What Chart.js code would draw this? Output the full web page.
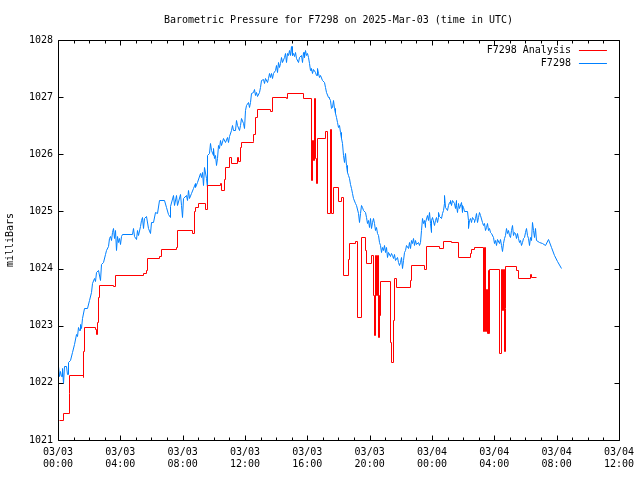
<!DOCTYPE html>
<html>
<head>
<meta charset="utf-8">
<script src="https://cdn.jsdelivr.net/npm/chart.js@4.4.1/dist/chart.umd.min.js"></script>
<style>
html,body{margin:0;padding:0;background:#fff;}
canvas{display:block;}
</style>
</head>
<body>
<canvas id="c" width="640" height="480"></canvas>
<script>
// ---- DATA (time = minutes after 2025-03-03 00:00 UTC, pressure in mb) ----
const chartTitle = 'Barometric Pressure for F7298 on 2025-Mar-03 (time in UTC)';
const yAxisTitle = 'milliBars';
const seriesNames = ['F7298 Analysis', 'F7298'];
const xTickDates = ['03/03','03/03','03/03','03/03','03/03','03/03','03/04','03/04','03/04','03/04'];
const xTickTimes = ['00:00','04:00','08:00','12:00','16:00','20:00','00:00','04:00','08:00','12:00'];
const yTickValues = [1021,1022,1023,1024,1025,1026,1027,1028];

const analysisMinutes = [2,20,41,44,95,98,100,143,147,150,153,157,212,219,327,338,341,389,395,453,460,517,524,529,541,565,575,624,629,639,642,660,667,690,694,701,703,749,752,760,766,817,824,877,882,944,975,979,982,986,990,995,998,1028,1037,1048,1053,1060,1079,1091,1098,1116,1120,1143,1150,1166,1181,1185,1207,1212,1216,1221,1225,1229,1231,1235,1238,1240,1279,1283,1289,1294,1302,1354,1358,1408,1417,1468,1481,1515,1542,1587,1592,1600,1636,1642,1645,1647,1651,1654,1657,1661,1699,1705,1709,1713,1716,1720,1723,1765,1770,1817,1822,1839];
const analysisPressure = [1021.35,1021.47,1021.82,1022.13,1022.10,1022.55,1022.98,1022.95,1022.86,1023.07,1023.51,1023.72,1023.70,1023.88,1023.92,1023.97,1024.18,1024.22,1024.34,1024.37,1024.67,1024.62,1025.00,1025.08,1025.14,1025.04,1025.46,1025.49,1025.38,1025.56,1025.77,1025.95,1025.84,1025.95,1025.88,1026.12,1026.22,1026.24,1026.35,1026.66,1026.79,1026.76,1027.01,1026.98,1027.07,1026.98,1025.55,1026.25,1025.90,1026.98,1025.94,1025.50,1026.28,1026.40,1024.98,1026.45,1024.98,1025.43,1025.19,1025.26,1023.88,1024.17,1024.44,1024.49,1023.15,1024.56,1024.32,1024.09,1024.24,1023.54,1022.84,1024.24,1023.54,1024.24,1022.81,1023.54,1023.19,1023.78,1022.72,1022.37,1023.10,1023.83,1023.67,1023.80,1024.06,1023.99,1024.40,1024.36,1024.49,1024.47,1024.21,1024.27,1024.34,1024.38,1022.90,1024.38,1022.90,1023.64,1022.88,1023.98,1022.88,1023.99,1022.53,1024.00,1023.27,1024.00,1022.56,1023.31,1024.04,1023.97,1023.83,1023.90,1023.86,1023.86];

const stationMinutes = [
0,4,8,12,15,19,23,31,35,38,
46,54,61,69,73,77,81,84,88,92,
100,111,119,127,130,138,142,146,153,161,
165,173,180,184,192,196,199,203,207,211,
215,219,223,226,230,234,238,242,246,284,
288,292,299,303,307,315,318,322,326,330,
338,345,353,357,364,372,380,387,407,414,
422,430,433,441,445,453,460,468,472,476,
483,491,495,499,506,514,518,526,529,537,
545,549,556,560,564,568,572,575,583,587,
591,595,598,602,606,610,614,618,621,625,
629,637,644,652,656,660,667,671,675,683,
687,690,698,702,706,714,717,721,725,733,
737,740,744,752,756,760,763,767,775,779,
783,790,794,798,806,809,813,817,821,825,
829,836,840,844,848,852,855,859,863,871,
875,878,882,886,890,894,898,901,905,909,
913,917,924,928,936,940,944,947,951,955,
959,963,967,971,974,978,982,990,994,997,
1001,1005,1009,1017,1024,1028,1032,1040,1043,1047,
1051,1055,1059,1063,1066,1070,1074,1078,1082,1086,
1089,1093,1097,1101,1105,1109,1112,1116,1120,1124,
1128,1132,1135,1143,1147,1155,1158,1162,1166,1170,
1174,1181,1185,1189,1193,1197,1201,1205,1208,1212,
1216,1220,1224,1228,1231,1235,1239,1243,1247,1251,
1254,1258,1262,1266,1270,1277,1281,1285,1289,1293,
1297,1304,1308,1312,1316,1320,1323,1327,1331,1335,
1339,1346,1350,1354,1358,1362,1366,1369,1373,1377,
1385,1389,1392,1396,1400,1404,1408,1412,1415,1419,
1423,1427,1431,1435,1438,1442,1446,1450,1454,1458,
1462,1465,1469,1473,1477,1481,1485,1488,1492,1496,
1500,1504,1508,1511,1515,1519,1523,1527,1531,1534,
1538,1542,1546,1550,1554,1557,1561,1565,1573,1577,
1580,1584,1588,1592,1596,1600,1603,1607,1611,1615,
1619,1623,1626,1634,1638,1642,1646,1649,1653,1657,
1661,1665,1669,1676,1680,1684,1688,1692,1699,1703,
1707,1711,1715,1719,1722,1726,1730,1734,1738,1742,
1745,1749,1753,1757,1761,1765,1768,1772,1776,1780,
1784,1788,1791,1795,1799,1803,1807,1811,1815,1818,
1822,1826,1830,1834,1837,1841,1853,1864,1876,1887,
1899,1910,1922,1937];
const stationPressure = [
1022.30,1022.12,1022.21,1022.12,1022.26,1022.00,1022.30,1022.30,1022.16,1022.37,
1022.40,1022.54,1022.68,1022.86,1022.82,1022.98,1022.93,1023.03,1022.96,1023.13,
1023.31,1023.31,1023.45,1023.59,1023.75,1023.83,1023.78,1023.94,1023.97,1023.80,
1024.08,1024.11,1024.25,1024.32,1024.39,1024.54,1024.57,1024.50,1024.64,1024.71,
1024.54,1024.68,1024.32,1024.57,1024.46,1024.54,1024.43,1024.57,1024.61,1024.61,
1024.71,1024.57,1024.52,1024.68,1024.59,1024.75,1024.85,1024.90,1024.71,1024.89,
1024.92,1024.71,1024.62,1024.82,1024.82,1024.99,1024.97,1025.20,1025.20,1025.08,
1024.96,1024.90,1025.10,1025.29,1025.11,1025.29,1025.11,1025.31,1025.11,1024.90,
1025.24,1025.29,1025.20,1025.38,1025.24,1025.32,1025.41,1025.50,1025.43,1025.52,
1025.67,1025.60,1025.69,1025.46,1025.78,1025.59,1025.43,1025.99,1026.02,1026.20,
1026.08,1025.99,1026.11,1025.94,1025.99,1025.81,1025.94,1026.16,1026.11,1026.25,
1026.16,1026.29,1026.21,1026.30,1026.21,1026.32,1026.43,1026.51,1026.43,1026.43,
1026.60,1026.51,1026.43,1026.51,1026.64,1026.55,1026.46,1026.78,1026.86,1026.92,
1026.83,1026.92,1027.07,1027.09,1027.14,1027.04,1027.09,1027.02,1027.09,1027.18,
1027.30,1027.32,1027.25,1027.34,1027.27,1027.34,1027.42,1027.35,1027.42,1027.34,
1027.42,1027.48,1027.56,1027.44,1027.62,1027.53,1027.60,1027.70,1027.62,1027.70,
1027.77,1027.62,1027.77,1027.74,1027.82,1027.74,1027.90,1027.74,1027.77,1027.72,
1027.79,1027.69,1027.62,1027.70,1027.74,1027.62,1027.79,1027.70,1027.82,1027.74,
1027.77,1027.70,1027.60,1027.48,1027.51,1027.42,1027.49,1027.44,1027.39,1027.51,
1027.42,1027.35,1027.39,1027.30,1027.27,1027.18,1027.09,1027.00,1026.98,1026.95,
1026.81,1026.83,1026.95,1026.81,1026.72,1026.65,1026.57,1026.48,1026.51,1026.39,
1026.29,1026.20,1025.99,1025.87,1026.02,1025.81,1025.69,1025.64,1025.59,1025.48,
1025.41,1025.32,1025.24,1025.15,1025.11,1024.97,1024.82,1024.97,1025.11,1025.08,
1025.03,1024.99,1024.90,1024.80,1024.85,1024.73,1024.89,1024.71,1024.82,1024.89,
1024.80,1024.68,1024.73,1024.62,1024.59,1024.46,1024.41,1024.29,1024.38,1024.32,
1024.41,1024.29,1024.38,1024.20,1024.29,1024.22,1024.27,1024.24,1024.18,1024.25,
1024.15,1024.20,1024.11,1024.06,1024.11,1024.20,1024.01,1024.15,1024.29,1024.32,
1024.41,1024.36,1024.46,1024.36,1024.50,1024.45,1024.54,1024.41,1024.50,1024.43,
1024.46,1024.41,1024.46,1024.68,1024.89,1024.80,1024.85,1024.73,1024.82,1024.94,
1024.85,1024.99,1024.80,1024.64,1024.85,1024.90,1024.76,1024.85,1024.90,1024.82,
1024.90,1024.99,1024.92,1024.89,1024.97,1025.03,1025.15,1025.29,1025.08,1025.03,
1025.11,1025.17,1025.15,1025.20,1025.11,1025.20,1025.15,1025.06,1025.20,1025.11,
1024.99,1025.15,1025.06,1025.17,1024.99,1025.11,1025.08,1025.01,1025.01,1024.85,
1024.71,1024.85,1024.89,1024.82,1024.90,1024.85,1024.82,1024.89,1024.97,1024.82,
1024.90,1024.99,1024.94,1024.82,1024.76,1024.80,1024.68,1024.73,1024.80,1024.68,
1024.71,1024.64,1024.62,1024.55,1024.45,1024.50,1024.41,1024.52,1024.45,1024.52,
1024.41,1024.31,1024.45,1024.54,1024.59,1024.71,1024.62,1024.68,1024.59,1024.55,
1024.68,1024.76,1024.59,1024.64,1024.62,1024.54,1024.62,1024.54,1024.46,1024.50,
1024.41,1024.46,1024.54,1024.55,1024.64,1024.71,1024.59,1024.54,1024.41,1024.55,
1024.50,1024.82,1024.68,1024.55,1024.71,1024.50,1024.46,1024.45,1024.41,1024.52,
1024.38,1024.24,1024.13,1024.01];

// ---- CHART ----
const FONT = {family: "'DejaVu Sans Mono', 'Liberation Mono', monospace", size: 10};
const FONT_CSS = "10px 'DejaVu Sans Mono', 'Liberation Mono', monospace";
const toXY = (xs, ys) => xs.map((x, i) => ({x: x, y: ys[i]}));

// Snap line vertices to pixel centres while datasets are drawn (crisp 1px lines like the original)
const crispLines = {
  id: 'crispLines',
  beforeDatasetsDraw(chart) {
    const snap = (f) => function (x, y) { return f.call(this, Math.round(x) + 0.5, Math.round(y) + 0.5); };
    this._saved = {
      pm: Path2D.prototype.moveTo, pl: Path2D.prototype.lineTo,
      cm: CanvasRenderingContext2D.prototype.moveTo, cl: CanvasRenderingContext2D.prototype.lineTo
    };
    Path2D.prototype.moveTo = snap(this._saved.pm);
    Path2D.prototype.lineTo = snap(this._saved.pl);
    CanvasRenderingContext2D.prototype.moveTo = snap(this._saved.cm);
    CanvasRenderingContext2D.prototype.lineTo = snap(this._saved.cl);
  },
  afterDatasetsDraw() {
    const s = this._saved;
    if (!s) return;
    Path2D.prototype.moveTo = s.pm; Path2D.prototype.lineTo = s.pl;
    CanvasRenderingContext2D.prototype.moveTo = s.cm; CanvasRenderingContext2D.prototype.lineTo = s.cl;
  }
};

const gnuFrame = {
  id: 'gnuFrame',
  afterDatasetsDraw(chart) {
    const {ctx, chartArea: a, scales} = chart;
    const xs = scales.x, ys = scales.y;
    ctx.save();
    ctx.strokeStyle = '#000';
    ctx.lineWidth = 1;
    const L = Math.round(a.left) + 0.5, R = Math.round(a.right) + 0.5;
    const T = Math.round(a.top) + 0.5, B = Math.round(a.bottom) + 0.5;
    ctx.beginPath();
    ctx.rect(L, T, R - L, B - T);
    for (let m = xs.min; m <= xs.max; m += 60) {
      const px = Math.round(xs.getPixelForValue(m)) + 0.5;
      const len = (m % 240 === 0) ? 5 : 3;
      ctx.moveTo(px, B); ctx.lineTo(px, B - len);
      ctx.moveTo(px, T); ctx.lineTo(px, T + len);
    }
    yTickValues.forEach(v => {
      const py = Math.round(ys.getPixelForValue(v)) + 0.5;
      ctx.moveTo(L, py); ctx.lineTo(L + 5, py);
      ctx.moveTo(R, py); ctx.lineTo(R - 5, py);
    });
    ctx.stroke();

    ctx.font = FONT_CSS;
    ctx.textAlign = 'right';
    ctx.textBaseline = 'middle';
    chart.data.datasets.forEach((ds, i) => {
      const y = Math.round(a.top + 10 + i * 13) + 0.5;
      ctx.fillStyle = '#000';
      ctx.fillText(ds.label, a.right - 48, y);
      ctx.strokeStyle = ds.borderColor;
      ctx.beginPath();
      ctx.moveTo(a.right - 40, y); ctx.lineTo(a.right - 12, y);
      ctx.stroke();
    });

    ctx.fillStyle = '#000';
    ctx.textAlign = 'center';
    ctx.fillText(chartTitle, (a.left + a.right) / 2, 20);
    ctx.restore();
  }
};

new Chart(document.getElementById('c'), {
  type: 'line',
  data: {
    datasets: [
      {
        label: seriesNames[0],
        data: toXY(analysisMinutes, analysisPressure),
        borderColor: '#ff0000',
        borderWidth: 1,
        pointRadius: 0,
        stepped: true,
        fill: false
      },
      {
        label: seriesNames[1],
        data: toXY(stationMinutes, stationPressure),
        borderColor: '#0080ff',
        borderWidth: 1,
        pointRadius: 0,
        tension: 0,
        fill: false
      }
    ]
  },
  options: {
    responsive: false,
    animation: false,
    devicePixelRatio: 1,
    layout: {padding: {top: 40, right: 18, left: 0, bottom: 0}},
    plugins: {
      legend: {display: false},
      title: {display: false},
      tooltip: {enabled: false}
    },
    scales: {
      x: {
        type: 'linear',
        min: 0,
        max: 2160,
        afterFit(s) { s.height = 40; },
        grid: {display: false, drawTicks: false},
        border: {display: false},
        ticks: {
          stepSize: 240,
          autoSkip: false,
          maxRotation: 0,
          padding: 6,
          font: FONT,
          color: '#000',
          callback: (v) => {
            const i = Math.round(v / 240);
            return [xTickDates[i], xTickTimes[i]];
          }
        }
      },
      y: {
        min: 1021,
        max: 1028,
        afterFit(s) { s.width = 58; },
        grid: {display: false, drawTicks: false},
        border: {display: false},
        ticks: {
          stepSize: 1,
          padding: 5,
          font: FONT,
          color: '#000',
          callback: (v) => String(v)
        },
        title: {display: true, text: yAxisTitle, font: FONT, color: '#000', padding: {top: 4, bottom: 0}}
      }
    }
  },
  plugins: [crispLines, gnuFrame]
});
</script>
</body>
</html>
